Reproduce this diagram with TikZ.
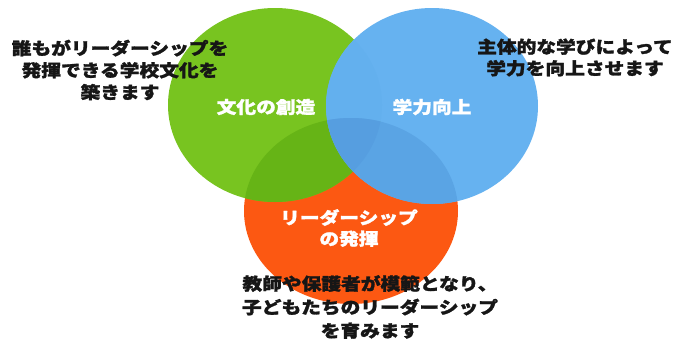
\documentclass[tikz,border=0pt]{standalone}
\usepackage{fontspec}
\newfontfamily\jp[FakeStretch=1.16, BoldFeatures={FakeBold=1.6}]{Noto Sans CJK JP}
\definecolor{orangeC}{RGB}{252,88,18}
\definecolor{greenC}{RGB}{120,196,32}
\definecolor{greenD}{RGB}{102,180,22}
\definecolor{blueC}{RGB}{102,178,240}
\definecolor{blueG}{RGB}{99,176,238}
\definecolor{blueO}{RGB}{90,164,228}
\definecolor{blueT}{RGB}{86,158,224}
\definecolor{inkC}{RGB}{22,22,22}
\tikzset{
  lab/.style={text=white, font=\jp\bfseries\fontsize{17}{21}\selectfont, align=center, inner sep=0pt},
  note/.style={text=inkC, font=\jp\bfseries\fontsize{17}{22}\selectfont, align=center, inner sep=0pt},
  gshape/.style={x radius=107, y radius=97},
  bshape/.style={x radius=106, y radius=98},
  oshape/.style={x radius=107, y radius=93}
}
\begin{document}
\begin{tikzpicture}[x=1pt,y=-1pt]
\useasboundingbox (0,0) rectangle (678,338);
\fill[white] (0,0) rectangle (678,338);
\coordinate (gc) at (275,105);
\coordinate (bc) at (432,106);
\coordinate (oc) at (351,211);
% circles
\fill[orangeC] (oc) ellipse[oshape];
\fill[greenC] (gc) ellipse[gshape];
\fill[blueC] (bc) ellipse[bshape];
% overlaps
\begin{scope}
  \clip (oc) ellipse[oshape];
  \fill[greenD] (gc) ellipse[gshape];
\end{scope}
\begin{scope}
  \clip (gc) ellipse[gshape];
  \fill[blueG] (bc) ellipse[bshape];
\end{scope}
\begin{scope}
  \clip (oc) ellipse[oshape];
  \fill[blueO] (bc) ellipse[bshape];
\end{scope}
\begin{scope}
  \clip (oc) ellipse[oshape];
  \clip (gc) ellipse[gshape];
  \fill[blueT] (bc) ellipse[bshape];
\end{scope}
% circle labels
\node[lab] (culture) at (266,107) {文化の創造};
\node[lab] (academic) at (432,107) {学力向上};
\node[lab] (leader) at (349,228) {リーダーシップ\\の発揮};
% notes
\node[note] (noteL) at (120,70) {誰もがリーダーシップを\\発揮できる学校文化を\\築きます};
\node[note, font=\jp\bfseries\fontsize{17}{21.5}\selectfont] (noteR) at (575,57.5) {主体的な学びによって\\学力を向上させます};
\node[note, font=\jp\bfseries\fontsize{17}{23.5}\selectfont] (noteB) at (370,307) {教師や保護者が模範となり、\\子どもたちのリーダーシップ\\を育みます};
\end{tikzpicture}
\end{document}
